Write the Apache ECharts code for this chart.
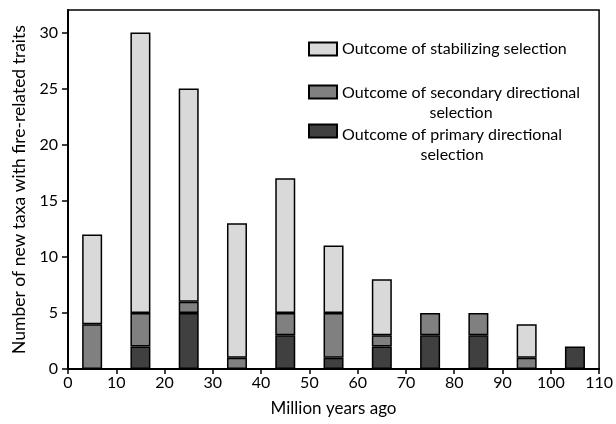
<!DOCTYPE html>
<html><head><meta charset="utf-8">
<script src="https://cdn.jsdelivr.net/npm/echarts@6/dist/echarts.min.js"></script>
<style>html,body{margin:0;padding:0;background:#fff}#c{width:616px;height:424px}</style>
</head><body><div id="c"></div>
<script>
const midpoints = [5, 15, 25, 35, 45, 55, 65, 75, 85, 95, 105];
const primary = [0, 2, 5, 0, 3, 1, 2, 3, 3, 0, 2];
const secondary = [4, 3, 1, 1, 2, 4, 1, 2, 2, 1, 0];
const stabilizing = [8, 25, 19, 12, 12, 6, 5, 0, 0, 3, 0];
const yTicks = [0, 5, 10, 15, 20, 25, 30];
const names = {
  stab: 'Outcome of stabilizing selection',
  sec: 'Outcome of secondary directional selection',
  pri: 'Outcome of primary directional selection'
};
const FONT = 'Lato';
const LFS = 16;
const chart = echarts.init(document.getElementById('c'));
const barSeries = (name, data, color) => ({
  name, type: 'bar', stack: 'all', data: data.map(v => (v === 0 ? '-' : v)), barWidth: 20, xAxisIndex: 0,
  itemStyle: { color, borderColor: '#000', borderWidth: 1.5 },
  emphasis: { disabled: true }
});
const legendBase = (name, top, fmt, rich, padTop) => ({
  data: [name], left: 308, top, orient: 'vertical',
  itemWidth: 28, itemHeight: 13, itemGap: 0, padding: 0,
  icon: 'rect', selectedMode: false,
  formatter: fmt,
  textStyle: { fontFamily: FONT, fontSize: LFS, color: '#000', lineHeight: 20, rich, padding: [padTop, 0, 0, 0] }
});
const rich2 = w => ({
  a: { fontFamily: FONT, fontSize: LFS, lineHeight: 20, color: '#000' },
  b: { fontFamily: FONT, fontSize: LFS, lineHeight: 20, color: '#000', width: w, align: 'center' }
});
chart.setOption({
  animation: false,
  grid: { left: 68, right: 15, top: 10, bottom: 55, show: true, borderColor: '#000', borderWidth: 1.5 },
  legend: [
    legendBase(names.stab, 39, () => names.stab, undefined, 0),
    legendBase(names.sec, 61, () => '{a|Outcome of secondary directional}\n{b|selection}', rich2(238), 22),
    legendBase(names.pri, 97, () => '{a|Outcome of primary directional}\n{b|selection}', rich2(219), 28)
  ],
  xAxis: [{
    type: 'category', data: midpoints, show: false, boundaryGap: true
  }, {
    type: 'value', min: 0, max: 110, interval: 10, position: 'bottom',
    name: 'Million years ago', nameLocation: 'middle', nameGap: 31,
    nameTextStyle: { fontFamily: FONT, fontSize: 17, color: '#000' },
    axisLine: { show: true, lineStyle: { color: '#000', width: 2 } },
    axisTick: { show: true, length: 5, lineStyle: { color: '#000', width: 1.5 } },
    axisLabel: { fontFamily: FONT, fontSize: 16, color: '#000', margin: 6 },
    splitLine: { show: false }
  }],
  yAxis: {
    type: 'value', min: 0, max: 32,
    name: 'Number of new taxa with fire-related traits', nameLocation: 'middle', nameGap: 35,
    nameTextStyle: { fontFamily: FONT, fontSize: 17.5, color: '#000' },
    axisLine: { show: true, lineStyle: { color: '#000', width: 2 } },
    axisTick: { show: true, length: 6, customValues: yTicks, lineStyle: { color: '#000', width: 1.5 } },
    axisLabel: { fontFamily: FONT, fontSize: 16, color: '#000', margin: 10, customValues: yTicks },
    splitLine: { show: false }
  },
  series: [
    barSeries(names.pri, primary, '#404040'),
    barSeries(names.sec, secondary, '#808080'),
    barSeries(names.stab, stabilizing, '#d9d9d9')
  ]
});
</script></body></html>
